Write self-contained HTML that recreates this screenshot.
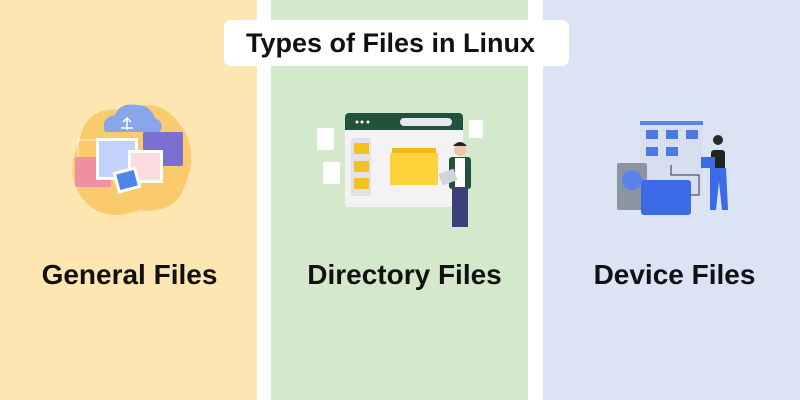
<!DOCTYPE html>
<html><head><style>
body{margin:0;width:800px;height:400px;overflow:hidden;background:#fff;font-family:"Liberation Sans",sans-serif;position:relative}
.col{position:absolute;top:0;height:400px}
.t{position:absolute;font-weight:bold;color:#111;white-space:nowrap}
</style></head><body>
<div class="col" style="left:0;width:257px;background:#fde6b2"></div>
<div class="col" style="left:271px;width:257px;background:#d4e8cc"></div>
<div class="col" style="left:543px;width:257px;background:#dce3f5"></div>
<div style="position:absolute;left:224px;top:20px;width:345px;height:46px;background:#fff;border-radius:7px"></div>
<div class="t" style="left:218px;width:345px;text-align:center;top:28px;font-size:27px">Types of Files in Linux</div>
<div class="t" style="left:1px;width:257px;text-align:center;top:259px;font-size:28px">General Files</div>
<div class="t" style="left:276px;width:257px;text-align:center;top:259px;font-size:28px">Directory Files</div>
<div class="t" style="left:546px;width:257px;text-align:center;top:259px;font-size:28px">Device Files</div>
<svg width="800" height="400" style="position:absolute;left:0;top:0">
<path d="M80 140 Q85 105 125 110 Q160 95 180 125 Q200 150 185 185 Q175 215 140 210 Q100 225 80 195 Q65 170 80 140Z" fill="#f7c45a" opacity=".8"/>
<rect x="78" y="140" width="40" height="22" fill="none" stroke="#fff" opacity=".7"/>
<rect x="75" y="157" width="36" height="30" rx="2" fill="#ef8fa0"/>
<rect x="143" y="132" width="40" height="34" rx="2" fill="#7b6fd1"/>
<path d="M105 132 Q100 118 115 115 Q120 102 137 105 Q150 105 155 118 Q165 122 160 132Z" fill="#8aa6ea"/>
<path d="M127 130v-12m-4 4 4-4 4 4M121 128h12" stroke="#fff" stroke-width="1.5" fill="none"/>
<rect x="96" y="138" width="42" height="42" fill="#fff"/><rect x="99" y="141" width="36" height="36" fill="#c3d1fb"/>
<rect x="128" y="150" width="35" height="33" fill="#fff"/><rect x="131" y="153" width="29" height="27" fill="#fbdbe1"/>
<rect x="115" y="169" width="24" height="22" fill="#fff" transform="rotate(-15 127 180)"/><rect x="118" y="172" width="18" height="16" fill="#4f86e8" transform="rotate(-15 127 180)"/>
<rect x="345" y="113" width="118" height="94" rx="4" fill="#f3f3f5"/>
<path d="M345 130v-13a4 4 0 0 1 4-4h110a4 4 0 0 1 4 4v13z" fill="#22523a"/>
<circle cx="357" cy="122" r="1.5" fill="#fff"/><circle cx="362" cy="122" r="1.5" fill="#fff"/><circle cx="368" cy="122" r="1.5" fill="#fff"/>
<rect x="400" y="118" width="52" height="8" rx="4" fill="#e6eaf0"/>
<rect x="351" y="138" width="20" height="58" rx="2" fill="#e2e2e6"/>
<rect x="354" y="143" width="15" height="11" fill="#f5c21c"/><rect x="354" y="161" width="15" height="11" fill="#f5c21c"/><rect x="354" y="178" width="15" height="11" fill="#f5c21c"/>
<rect x="392" y="148" width="44" height="36" fill="#f0b819"/><rect x="390" y="153" width="48" height="32" fill="#fdd23a"/>
<rect x="317" y="128" width="17" height="22" fill="#fff"/><rect x="323" y="162" width="17" height="22" fill="#fff"/><rect x="469" y="120" width="14" height="18" fill="#fff"/>
<circle cx="460" cy="150" r="6" fill="#f2c3a5"/><path d="M453 146q7-8 14 0z" fill="#222"/>
<rect x="449" y="157" width="22" height="32" rx="3" fill="#22523a"/><rect x="455" y="158" width="10" height="30" fill="#fff"/>
<rect x="452" y="187" width="16" height="40" fill="#3c3f7a"/>
<rect x="440" y="171" width="16" height="12" fill="#cfd5dc" transform="rotate(-20 448 177)"/>
<rect x="640" y="121" width="63" height="75" rx="2" fill="#d7def0"/>
<rect x="640" y="121" width="63" height="4" fill="#5b84ea"/>
<rect x="646" y="130" width="12" height="9" fill="#4d79e8"/><rect x="666" y="130" width="12" height="9" fill="#4d79e8"/><rect x="686" y="130" width="12" height="9" fill="#4d79e8"/>
<rect x="646" y="147" width="12" height="9" fill="#4d79e8"/><rect x="666" y="147" width="12" height="9" fill="#4d79e8"/>
<rect x="617" y="163" width="30" height="47" rx="2" fill="#8c96a3"/><circle cx="632" cy="180" r="10" fill="#5b84ea"/>
<rect x="641" y="180" width="50" height="35" rx="3" fill="#3b6be6"/>
<path d="M671 165v10h28v20h-8" stroke="#333" fill="none"/>
<circle cx="718" cy="140" r="5" fill="#2a2a2a"/><rect x="711" y="150" width="14" height="20" rx="3" fill="#222"/>
<path d="M710 168h16l2 42h-6l-3-28-3 28h-6z" fill="#3b6be6"/>
<rect x="701" y="157" width="14" height="11" fill="#3b6be6"/>
</svg>
</body></html>
